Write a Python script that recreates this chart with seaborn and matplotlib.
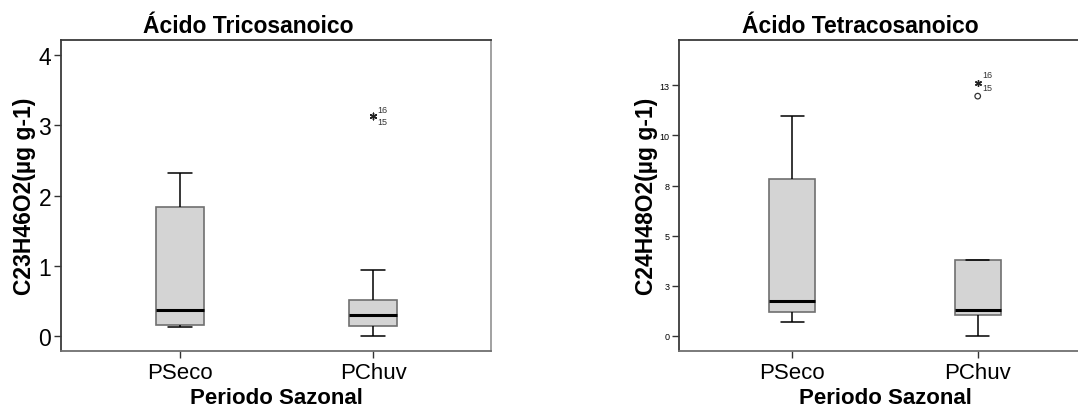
import matplotlib
matplotlib.use("Agg")
import matplotlib.pyplot as plt
import seaborn as sns
import pandas as pd

# Periods (x categories)
periodos = ["PSeco", "PChuv"]

# Acido Tricosanoico (C23H46O2, ug/g): box summary per period
tri_min = [0.13, 0.00]
tri_q1 = [0.16, 0.15]
tri_med = [0.37, 0.30]
tri_q3 = [1.84, 0.52]
tri_max = [2.32, 0.94]
# extreme values (star) in PChuv, cases 15 and 16
tri_ext_val = [3.13, 3.13]
tri_ext_casos = ["15", "16"]

# Acido Tetracosanoico (C24H48O2, ug/g): box summary per period
tet_min = [0.70, 0.00]
tet_q1 = [1.21, 1.03]
tet_med = [1.73, 1.31]
tet_q3 = [7.83, 3.79]
tet_max = [10.98, 3.79]
# extreme (star, cases 15/16) and outlier (circle) in PChuv
tet_ext_val = [12.60, 12.60]
tet_ext_casos = ["15", "16"]
tet_out_val = [11.96]

tet_ticks = [0, 2.5, 5, 7.5, 10, 12.5]
tet_ticklabels = ["0", "3", "5", "8", "10", "13"]

sns.set_theme(style="white")
plt.rcParams["font.family"] = ["Liberation Sans", "DejaVu Sans"]
plt.rcParams["text.color"] = "black"
plt.rcParams["axes.labelcolor"] = "black"
plt.rcParams["xtick.color"] = "black"
plt.rcParams["ytick.color"] = "black"

W, H = 1078, 414
fig = plt.figure(figsize=(W / 100, H / 100), dpi=100)

LABEL_FS = 16.5


def frame(vmin, q1, med, q3, vmax):
    rows = []
    for i, p in enumerate(periodos):
        for v in (vmin[i], q1[i], med[i], q3[i], vmax[i]):
            rows.append({"Periodo": p, "Valor": v})
    return pd.DataFrame(rows)


def draw_box(ax, df):
    sns.boxplot(
        data=df, x="Periodo", y="Valor", order=periodos, ax=ax,
        color="#d4d4d4", width=0.25, whis=(0, 100), showfliers=False,
        linewidth=1.1, linecolor="black",
        boxprops=dict(edgecolor="#707070", facecolor="#d4d4d4", linewidth=1.2),
        medianprops=dict(color="black", linewidth=2.2),
        whiskerprops=dict(color="black", linewidth=1.1),
        capprops=dict(color="black", linewidth=1.1),
        saturation=1,
    )


def style_axes(ax):
    for side, col in (("top", "#3a3a3a"), ("left", "#3a3a3a"),
                      ("bottom", "#707070"), ("right", "#9a9a9a")):
        ax.spines[side].set_visible(True)
        ax.spines[side].set_color(col)
        ax.spines[side].set_linewidth(1.3)
    ax.tick_params(axis="both", which="both", direction="out", length=5,
                   width=1.0, color="#333333", left=True, bottom=True, pad=2)
    ax.tick_params(axis="x", pad=3)
    ax.set_xlabel("Periodo Sazonal", fontsize=16, fontweight="bold",
                  labelpad=3, color="black")
    for lab in ax.get_xticklabels():
        lab.set_fontsize(16)
    ax.set_facecolor("white")


# ---- Left panel: Tricosanoico ----
ax1 = fig.add_axes([61 / W, 62 / H, 430 / W, 311 / H])
draw_box(ax1, frame(tri_min, tri_q1, tri_med, tri_q3, tri_max))
ax1.scatter([1] * len(tri_ext_val), tri_ext_val, marker=(6, 2, 0), s=22,
            color="#222222", linewidths=0.9, zorder=5)
ax1.annotate(tri_ext_casos[1], (1, tri_ext_val[1]), xytext=(3, 5),
             textcoords="offset points", fontsize=6.5, color="#333333", va="center")
ax1.annotate(tri_ext_casos[0], (1, tri_ext_val[0]), xytext=(3, -4),
             textcoords="offset points", fontsize=6.5, color="#333333", va="center")
ax1.set_xlim(-0.617, 1.611)
ax1.set_ylim(-0.21, 4.21)
ax1.set_yticks([0, 1, 2, 3, 4])
ax1.set_yticklabels(["0", "1", "2", "3", "4"], fontsize=16.5)
ax1.set_ylabel("C23H46O2(µg g-1)", fontsize=LABEL_FS, fontweight="bold", color="black")
ax1.yaxis.set_label_coords(-0.058, 0.5)
style_axes(ax1)
fig.text(248 / W, 1 - 33 / H, "Ácido Tricosanoico", ha="center", va="baseline",
         fontsize=LABEL_FS, fontweight="bold", color="black")

# ---- Right panel: Tetracosanoico ----
ax2 = fig.add_axes([679 / W, 62 / H, 412 / W, 311 / H])
draw_box(ax2, frame(tet_min, tet_q1, tet_med, tet_q3, tet_max))
ax2.scatter([1] * len(tet_ext_val), tet_ext_val, marker=(6, 2, 0), s=18,
            color="#222222", linewidths=0.9, zorder=5)
ax2.scatter([1] * len(tet_out_val), tet_out_val, marker="o", s=16,
            facecolors="none", edgecolors="#333333", linewidths=0.9, zorder=5)
ax2.annotate(tet_ext_casos[1], (1, tet_ext_val[1]), xytext=(3, 6),
             textcoords="offset points", fontsize=6.5, color="#333333", va="center")
ax2.annotate(tet_ext_casos[0], (1, tet_ext_val[0]), xytext=(3, -3),
             textcoords="offset points", fontsize=6.5, color="#333333", va="center")
ax2.set_xlim(-0.611, 1.611)
ax2.set_ylim(-0.75, 14.76)
ax2.set_yticks(tet_ticks)
ax2.set_yticklabels(tet_ticklabels, fontsize=6.5)
ax2.set_ylabel("C24H48O2(µg g-1)", fontsize=LABEL_FS, fontweight="bold", color="black")
ax2.yaxis.set_label_coords(-0.05, 0.5)
style_axes(ax2)
fig.text(860 / W, 1 - 33 / H, "Ácido Tetracosanoico", ha="center", va="baseline",
         fontsize=LABEL_FS, fontweight="bold", color="black")

fig.savefig("out.png", dpi=100, facecolor="white")
